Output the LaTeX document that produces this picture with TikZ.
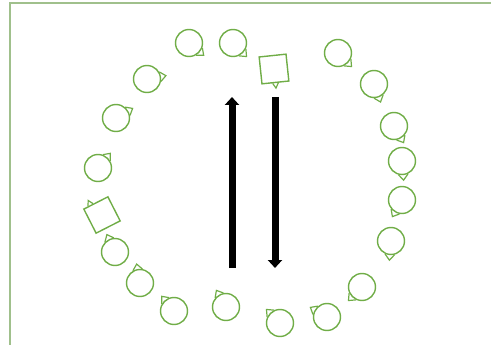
\documentclass[tikz,border=0pt]{standalone}
\usetikzlibrary{arrows.meta,calc}
\definecolor{bub}{RGB}{112,173,71}
\definecolor{framec}{RGB}{160,192,140}
\begin{document}
\begin{tikzpicture}[x=1pt,y=-1pt,
  bubble/.style={circle,draw=bub,line width=1.4pt,minimum size=27pt,inner sep=0pt},
  sqbox/.style={rectangle,draw=bub,line width=1.4pt,minimum size=27pt,inner sep=0pt},
  tail/.style={draw=bub,line width=1.2pt,line join=miter},
  bigarrow/.style={line width=7pt,-{Triangle[width=14pt,length=8pt]}}]
\useasboundingbox (0,0) rectangle (491,345);
\draw[framec,line width=1.3pt] (10,345) -- (10,3) -- (491,3);
% bubbles: name, position, tail angle
\foreach \n/\x/\y/\a in {b1/189/43/-40, b2/233/43/-45, b4/338/53/-45, b5/374/84/-70,
  b6/394/126/-60, b7/402/161/-85, b8/402/200/-120, b9/391/241/-95,
  b10/362/287/-135, b11/327/317/150, b12/280/323/135, b13/226/307/120,
  b14/174/311/130, b15/140/283/100, b16/115/252/115, b18/98/168/50,
  b19/116/118/30, b20/147/79/10} {
  \pgfmathtruncatemacro{\aa}{mod(\a+20+360,360)}
  \pgfmathtruncatemacro{\ab}{mod(\a-20+360,360)}
  \pgfmathtruncatemacro{\ac}{mod(\a+360,360)}
  \node[bubble] (\n) at (\x,\y) {};
  \draw[tail] (\n.\aa) -- ($(\n.center)!1.35!(\n.\ac)$) -- (\n.\ab);
}
\node[sqbox,rotate=6] (s1) at (274,69) {};
\draw[tail] ($(s1.south)!0.2!(s1.south west)$) -- ($(s1.south)!5pt!90:(s1.south west)$) -- ($(s1.south)!0.2!(s1.south east)$);
\node[sqbox,rotate=27] (s2) at (102,215) {};
\coordinate (s2a) at ($(s2.north)!0.6!(s2.north west)$);
\coordinate (s2b) at ($(s2.north)!0.2!(s2.north west)$);
\coordinate (s2m) at ($(s2.north)!0.4!(s2.north west)$);
\draw[tail] (s2a) -- ($(s2m)!5pt!-90:(s2a)$) -- (s2b);
\coordinate (u0) at (232,268);
\coordinate (u1) at (232,97);
\coordinate (d0) at (275,97);
\coordinate (d1) at (275,268);
\draw[bigarrow] (u0) -- (u1);
\draw[bigarrow] (d0) -- (d1);
\end{tikzpicture}
\end{document}
